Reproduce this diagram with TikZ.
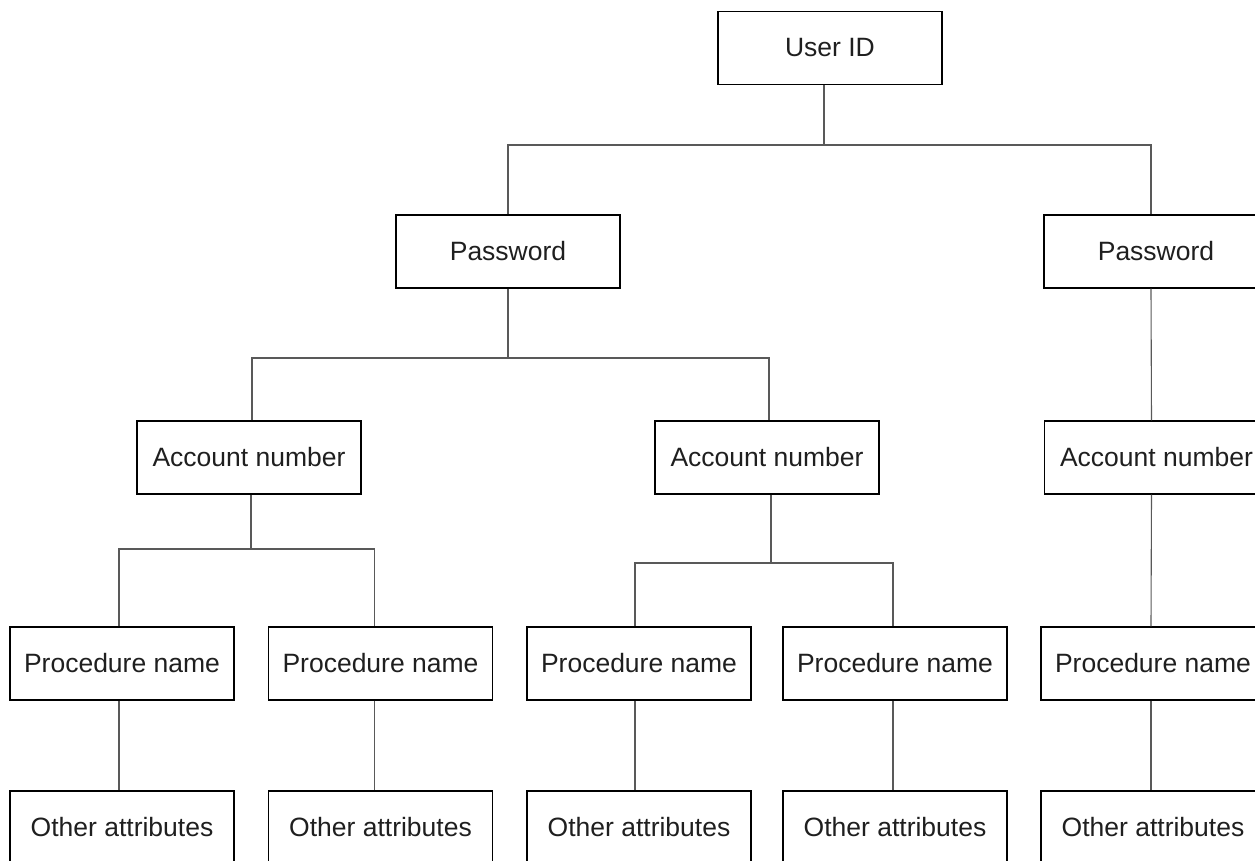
\documentclass[tikz,border=0pt]{standalone}
\usepackage{fontspec}
\setmainfont{Liberation Sans}
\begin{document}
\begin{tikzpicture}[x=0.5pt,y=-0.5pt,
  box/.style={draw=black, line width=0.6pt, rectangle, minimum width=112pt, minimum height=36.5pt, inner sep=0pt, text=black!88, font=\fontsize{13.25}{16}\selectfont},
  conn/.style={draw=black!65, line width=0.55pt}]
\useasboundingbox (0,0) rectangle (1255,861);
\clip (0,0) rectangle (1255,861);
% level 0
\node[box] (uid) at (830,48) {User ID};
% level 1
\node[box] (pw1) at (508,251.5) {Password};
\node[box] (pw2) at (1156,251.5) {Password};
% level 2
\node[box] (an1) at (249,457.5) {Account number};
\node[box] (an2) at (767,457.5) {Account number};
\node[box] (an3) at (1156.5,457.5) {Account number};
% level 3
\node[box] (pn1) at (122,663.5) {Procedure name};
\node[box] (pn2) at (380.5,663.5) {Procedure name};
\node[box] (pn3) at (639,663.5) {Procedure name};
\node[box] (pn4) at (895,663.5) {Procedure name};
\node[box] (pn5) at (1153,663.5) {Procedure name};
% level 4
\node[box] (oa1) at (122,827.5) {Other attributes};
\node[box] (oa2) at (380.5,827.5) {Other attributes};
\node[box] (oa3) at (639,827.5) {Other attributes};
\node[box] (oa4) at (895,827.5) {Other attributes};
\node[box] (oa5) at (1153,827.5) {Other attributes};
% junctions
\coordinate (j0) at (824,145);
\coordinate (j1) at (508,358);
\coordinate (j2) at (251,549);
\coordinate (j3) at (771,563);
% connectors
\draw[conn] (j0 |- uid.south) -- (j0);
\draw[conn] (pw1.north) |- (j0) -| ([xshift=-2.5pt]pw2.north);
\draw[conn] (pw1.south) -- (j1);
\draw[conn] ([xshift=1.5pt]an1.north) |- (j1) -| ([xshift=1pt]an2.north);
\draw[conn] ([xshift=-2.5pt]pw2.south) -- ([xshift=-2.5pt]an3.north);
\draw[conn] (j2 |- an1.south) -- (j2);
\draw[conn] ([xshift=-1.5pt]pn1.north) |- (j2) -| ([xshift=-3pt]pn2.north);
\draw[conn] (j3 |- an2.south) -- (j3);
\draw[conn] ([xshift=-2pt]pn3.north) |- (j3) -| ([xshift=-1pt]pn4.north);
\draw[conn] ([xshift=-2.5pt]an3.south) -- ([xshift=-1pt]pn5.north);
\draw[conn] ([xshift=-1.5pt]pn1.south) -- ([xshift=-1.5pt]oa1.north);
\draw[conn] ([xshift=-3pt]pn2.south) -- ([xshift=-3pt]oa2.north);
\draw[conn] ([xshift=-2pt]pn3.south) -- ([xshift=-2pt]oa3.north);
\draw[conn] ([xshift=-1pt]pn4.south) -- ([xshift=-1pt]oa4.north);
\draw[conn] ([xshift=-1pt]pn5.south) -- ([xshift=-1pt]oa5.north);
\end{tikzpicture}
\end{document}
